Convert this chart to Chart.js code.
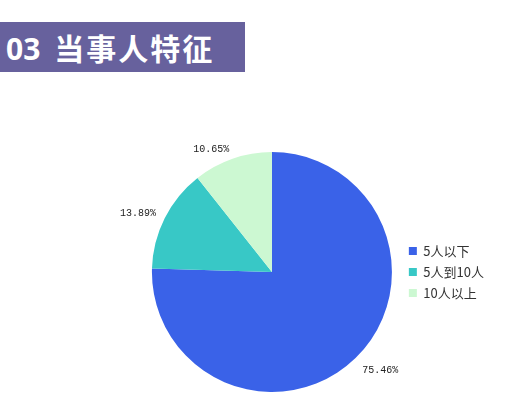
<!DOCTYPE html>
<html>
<head>
<meta charset="utf-8">
<script src="https://cdn.jsdelivr.net/npm/chart.js@4/dist/chart.umd.min.js"></script>
<style>
  body { margin: 0; background: #fff; width: 521px; height: 414px; overflow: hidden; position: relative; }
  .banner { position: absolute; left: 0; top: 22px; width: 245px; height: 50px; background: #67619d;
    color: #fff; font-family: "Noto Sans CJK SC", sans-serif; font-weight: bold; font-size: 30px;
    line-height: 50px; white-space: nowrap; }
  .banner .num { font-family: "Open Sans", sans-serif; margin-left: 6px; margin-right: 14px; }
  .banner .zh { letter-spacing: 2px; }
  #wrap { position: absolute; left: 0; top: 0; width: 521px; height: 414px; }
</style>
</head>
<body>
<div class="banner"><span class="num">03</span><span class="zh">当事人特征</span></div>
<div id="wrap"><canvas id="pie"></canvas></div>
<script>
let labels = ["5人以下", "5人到10人", "10人以上"];
let values = [75.46, 13.89, 10.65];
let colors = ["#3a62e8", "#38c8c6", "#ccf8d2"];

// percent labels just outside each slice
let outLabels = {
  id: "outLabels",
  afterDatasetsDraw(chart) {
    let ctx = chart.ctx;
    let arcs = chart.getDatasetMeta(0).data;
    ctx.save();
    ctx.font = "10px 'Liberation Mono', monospace";
    ctx.fillStyle = "#222";
    arcs.forEach((arc, i) => {
      let mid = (arc.startAngle + arc.endAngle) / 2;
      let r = arc.outerRadius * 1.08;
      let x = arc.x + Math.cos(mid) * r;
      let y = arc.y + Math.sin(mid) * r;
      ctx.textAlign = Math.cos(mid) < 0 ? "right" : "left";
      ctx.textBaseline = Math.sin(mid) > 0.5 ? "top" : "middle";
      ctx.fillText(values[i].toFixed(2) + "%", x, y);
    });
    ctx.restore();
  }
};

new Chart(document.getElementById("pie"), {
  type: "pie",
  data: {
    labels: labels,
    datasets: [{
      data: values,
      backgroundColor: colors,
      borderWidth: 0
    }]
  },
  options: {
    responsive: true,
    maintainAspectRatio: false,
    animation: false,
    layout: { padding: { left: 143, top: 152, bottom: 22, right: 27 } },
    plugins: {
      legend: {
        position: "right",
        labels: {
          boxWidth: 8,
          boxHeight: 8,
          padding: 8,
          color: "#333",
          font: { family: "'Noto Sans CJK SC', sans-serif", size: 13 }
        }
      },
      tooltip: { enabled: false }
    }
  },
  plugins: [outLabels]
});
</script>
</body>
</html>
